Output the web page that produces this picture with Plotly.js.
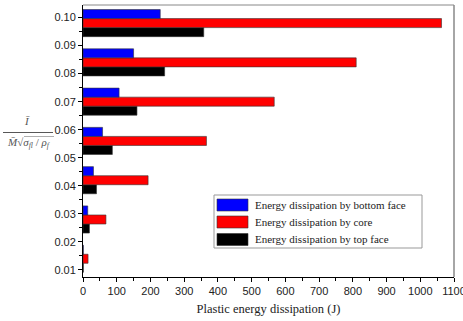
<!DOCTYPE html>
<html>
<head>
<meta charset="utf-8">
<script src="https://cdn.plot.ly/plotly-3.0.1.min.js"></script>
<style>html,body{margin:0;padding:0;background:#fff;}#chart{width:463px;height:321px;}</style>
</head>
<body>
<div id="chart"></div>
<script>
// Data
var ratios = [0.014, 0.028, 0.042, 0.056, 0.070, 0.084, 0.098];
var bottomFace = [1, 14, 31, 58, 107, 150, 229];
var core = [15, 68, 193, 366, 567, 810, 1063];
var topFace = [1, 19, 40, 87, 160, 242, 358];
var seriesNames = ["Energy dissipation by bottom face", "Energy dissipation by core", "Energy dissipation by top face"];
var seriesColors = ["#0000ff", "#ff0000", "#000000"];

var L = 83, R = 454, T = 5, B = 277;
function px(x){ return (x - L) / (R - L); }
function py(y){ return (B - y) / (B - T); }

var barLine = {color: "#333", width: 0.6};
// Plotly groups horizontal bars bottom-up: top face (bottom), core, bottom face (top)
var traces = [
  {type: "bar", orientation: "h", y: ratios, x: topFace, name: seriesNames[2], marker: {color: seriesColors[2], line: barLine}},
  {type: "bar", orientation: "h", y: ratios, x: core, name: seriesNames[1], marker: {color: seriesColors[1], line: barLine}},
  {type: "bar", orientation: "h", y: ratios, x: bottomFace, name: seriesNames[0], marker: {color: seriesColors[0], line: barLine}}
];

var shapes = [
  {type: "line", xref: "paper", yref: "paper", x0: 0, x1: 1, y0: 1, y1: 1, line: {color: "#888", width: 1}},
  {type: "line", xref: "paper", yref: "paper", x0: 1, x1: 1, y0: 0, y1: 1, line: {color: "#888", width: 1.5}},
  // legend box
  {type: "rect", xref: "paper", yref: "paper", x0: px(214), x1: px(422), y0: py(248), y1: py(195), line: {color: "#999", width: 1}, fillcolor: "#fff"},
  // y title fraction line
  {type: "line", xref: "paper", yref: "paper", x0: px(3), x1: px(53), y0: py(132.5), y1: py(132.5), line: {color: "#444", width: 0.9}},
  // radical vinculum
  {type: "line", xref: "paper", yref: "paper", x0: px(24), x1: px(54), y0: py(136.5), y1: py(136.5), line: {color: "#777", width: 0.6}}
];
var annotations = [
  {xref: "paper", yref: "paper", x: px(27), y: py(121), text: "<i>Ī</i>", showarrow: false, font: {family: "Liberation Serif", size: 11, color: "#555"}, xanchor: "center", yanchor: "middle"},
  {xref: "paper", yref: "paper", x: px(29), y: py(143), text: "<i>M̄</i>√<i>σ<sub>fl</sub></i> / <i>ρ<sub>f</sub></i>", showarrow: false, font: {family: "Liberation Serif", size: 11, color: "#555"}, xanchor: "center", yanchor: "middle"}
];
var rowsY = [205, 222, 239.5];
for (var i = 0; i < 3; i++) {
  shapes.push({type: "rect", xref: "paper", yref: "paper", x0: px(217), x1: px(248), y0: py(rowsY[i] + 6), y1: py(rowsY[i] - 6), fillcolor: seriesColors[i], line: {color: "#333", width: 0.6}});
  annotations.push({xref: "paper", yref: "paper", x: px(253), y: py(rowsY[i]), text: seriesNames[i], showarrow: false, xanchor: "left", yanchor: "middle", font: {family: "Liberation Serif", size: 11, color: "#222"}});
}

var layout = {
  width: 463, height: 321,
  margin: {l: L, r: 463 - R, t: T, b: 321 - B, pad: 0},
  paper_bgcolor: "#fff", plot_bgcolor: "#fff",
  barmode: "group", bargap: 0.31, bargroupgap: 0,
  showlegend: false,
  xaxis: {
    range: [0, 1100], dtick: 100, tick0: 0, showgrid: false, zeroline: false,
    showline: true, linecolor: "#000", linewidth: 1,
    ticks: "outside", ticklen: 4, tickcolor: "#000", tickwidth: 1,
    ticklabeloverflow: "allow",
    minor: {dtick: 50, ticks: "outside", ticklen: 3, tickcolor: "#000", showgrid: false},
    tickfont: {family: "Liberation Sans", size: 11, color: "#222"},
    title: {text: "Plastic energy dissipation (J)", font: {family: "Liberation Serif", size: 12.5, color: "#222"}, standoff: 8},
    fixedrange: true
  },
  yaxis: {
    range: [0.0075, 0.10445], dtick: 0.01, tick0: 0, tickformat: ".2f", showgrid: false, zeroline: false,
    showline: true, linecolor: "#000", linewidth: 1,
    ticks: "outside", ticklen: 4, tickcolor: "#000", tickwidth: 1,
    minor: {dtick: 0.005, ticks: "outside", ticklen: 3, tickcolor: "#000", showgrid: false},
    tickfont: {family: "Liberation Sans", size: 11, color: "#222"},
    fixedrange: true
  },
  shapes: shapes,
  annotations: annotations,
  font: {family: "Liberation Sans"}
};
Plotly.newPlot("chart", traces, layout, {displayModeBar: false, staticPlot: true});
</script>
</body>
</html>
